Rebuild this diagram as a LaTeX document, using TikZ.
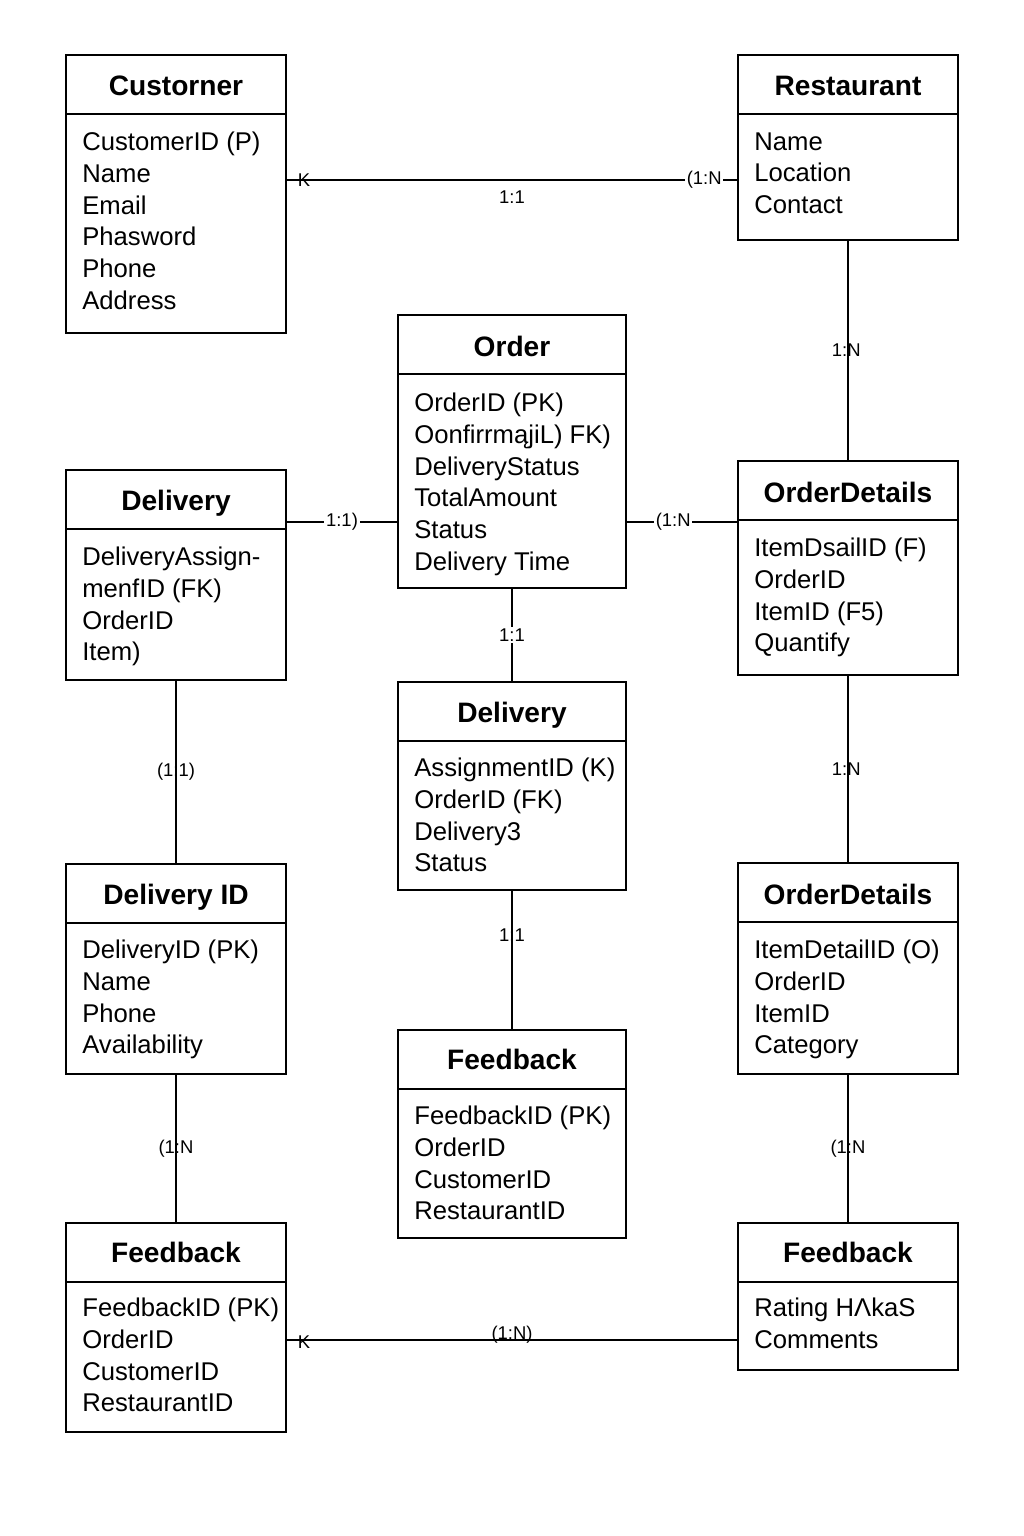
\documentclass[tikz,border=0pt]{standalone}
\usepackage{fontspec}
\setmainfont{Liberation Sans}
\usepackage{tikz}

\begin{document}
\begin{tikzpicture}[x=0.02cm,y=-0.02cm,
  box/.style={draw,line width=1.1pt,minimum width=4.4cm,inner sep=0pt,
    path picture={\draw[line width=1.1pt] ([yshift=-1.18cm]path picture bounding box.north west)
      -- ([yshift=-1.18cm]path picture bounding box.north east);}},
  wbox/.style={box,minimum width=4.56cm},
  title/.style={anchor=base,inner sep=0pt,font=\fontsize{16}{18}\selectfont\bfseries},
  attr/.style={anchor=north west,inner sep=0pt,align=left,font=\fontsize{14.6}{18}\selectfont},
  rel/.style={line width=0.8pt},
  lab/.style={font=\fontsize{10.5}{12}\selectfont,inner sep=1pt},
  cut/.style={lab,fill=white}]
\useasboundingbox (0,0) rectangle (1024,1536);

\node[box,minimum height=5.56cm] (cust) at (176,194) {};
\node[title] (custT) at (176,95) {Custorner};
\node[attr] (custA) at (82,132) {CustomerID (P)\\Name\\Email\\Phasword\\Phone\\Address};

\node[box,minimum height=3.7cm] (rest) at (848,147.5) {};
\node[title] (restT) at (848,95) {Restaurant};
\node[attr] (restA) at (754,132) {Name\\Location\\Contact};

\node[wbox,minimum height=5.46cm] (order) at (512,451.5) {};
\node[title] (orderT) at (512,356) {Order};
\node[attr] (orderA) at (414,393) {OrderID (PK)\\OonfirrmąjiL) FK)\\DeliveryStatus\\TotalAmount\\Status\\Delivery Time};

\node[box,minimum height=4.2cm] (delL) at (176,575) {};
\node[title] (delLT) at (176,510) {Delivery};
\node[attr] (delLA) at (82,547) {DeliveryAssign-\\menfID (FK)\\OrderID\\Item)};

\node[box,minimum height=4.28cm] (odT) at (848,568) {};
\node[title] (odTT) at (848,502) {OrderDetails};
\node[attr] (odTA) at (754,538) {ItemDsailID (F)\\OrderID\\ItemID (F5)\\Quantify};

\node[wbox,minimum height=4.16cm] (delC) at (512,786) {};
\node[title] (delCT) at (512,722) {Delivery};
\node[attr] (delCA) at (414,758) {AssignmentID (K)\\OrderID (FK)\\Delivery3\\Status};

\node[box,minimum height=4.2cm] (delid) at (176,969) {};
\node[title] (delidT) at (176,904) {Delivery ID};
\node[attr] (delidA) at (82,940) {DeliveryID (PK)\\Name\\Phone\\Availability};

\node[box,minimum height=4.22cm] (odB) at (848,968.5) {};
\node[title] (odBT) at (848,904) {OrderDetails};
\node[attr] (odBA) at (754,940) {ItemDetailID (O)\\OrderID\\ItemID\\Category};

\node[wbox,minimum height=4.16cm] (fbC) at (512,1134) {};
\node[title] (fbCT) at (512,1069) {Feedback};
\node[attr] (fbCA) at (414,1106) {FeedbackID (PK)\\OrderID\\CustomerID\\RestaurantID};

\node[box,minimum height=4.18cm] (fbL) at (176,1327.5) {};
\node[title] (fbLT) at (176,1262) {Feedback};
\node[attr] (fbLA) at (82,1298) {FeedbackID (PK)\\OrderID\\CustomerID\\RestaurantID};

\node[box,minimum height=2.94cm] (fbR) at (848,1296.5) {};
\node[title] (fbRT) at (848,1262) {Feedback};
\node[attr] (fbRA) at (754,1298) {Rating HΛkaS\\Comments};

\draw[rel] (cust.east |- 0,180) -- node[lab,pos=0.038]{K} node[lab,midway,below=5pt]{1:1}
  node[cut,pos=0.927]{(1:N} (rest.west |- 0,180);
\draw[rel] (rest.south) -- node[lab,midway,xshift=-1pt]{1:N} (odT.north);
\draw[rel] (delL.east |- 0,522) -- node[cut,midway]{1:1)} (order.west |- 0,522);
\draw[rel] (order.east |- 0,522) -- node[cut,pos=0.42]{(1:N} (odT.west |- 0,522);
\draw[rel] (order.south) -- node[cut,midway]{1:1} (delC.north);
\draw[rel] (delL.south) -- node[lab,midway]{(1:1)} (delid.north);
\draw[rel] (odT.south) -- node[lab,midway,xshift=-1pt]{1:N} (odB.north);
\draw[rel] (delC.south) -- node[lab,pos=0.32]{1:1} (fbC.north);
\draw[rel] (delid.south) -- node[lab,midway]{(1:N} (fbL.north);
\draw[rel] (odB.south) -- node[lab,midway]{(1:N} (fbR.north);
\draw[rel] (fbL.east |- 0,1340) -- node[lab,pos=0.038,yshift=-1pt]{K} node[lab,midway,yshift=3pt]{(1:N)}
  (fbR.west |- 0,1340);
\end{tikzpicture}
\end{document}
